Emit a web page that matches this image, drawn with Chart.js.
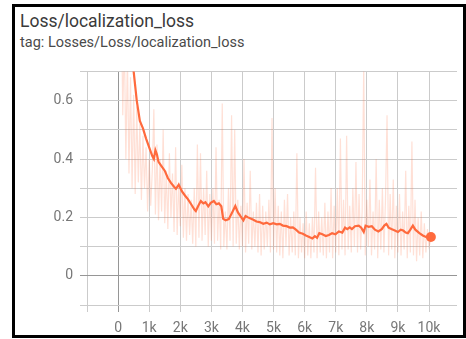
<!DOCTYPE html>
<html>
<head>
<meta charset="utf-8">
<script src="https://cdn.jsdelivr.net/npm/chart.js@4/dist/chart.umd.min.js"></script>
<style>
  html, body { margin: 0; padding: 0; background: #fff; width: 466px; height: 339px; overflow: hidden; }
  #frame { position: absolute; left: 12px; top: 4px; width: 454px; height: 334px; box-sizing: border-box; border: 3.5px solid #000; background: #fff; }
  #title { position: absolute; left: 20px; top: 11px; font-family: Roboto, sans-serif; font-size: 17.5px; color: #3a3a3a; white-space: nowrap; }
  #subtitle { position: absolute; left: 20px; top: 34px; font-family: Roboto, sans-serif; font-size: 14.5px; color: #4a4a4a; white-space: nowrap; }
  #wrap { position: absolute; left: 16px; top: 56px; width: 446px; height: 277px; }
</style>
</head>
<body>
<div id="frame"></div>
<div id="title">Loss/localization_loss</div>
<div id="subtitle">tag: Losses/Loss/localization_loss</div>
<div id="wrap"><canvas id="c" width="446" height="277"></canvas></div>
<script>
// ---- data ----
const rawSteps = [
  100,150,200,250,300,350,400,450,500,550,600,650,700,750,800,850,900,950,1000,
  1050,1100,1150,1200,1250,1300,1350,1400,1450,1500,1550,1600,1650,1700,1750,1800,1850,1900,1950,2000,
  2050,2100,2150,2200,2250,2300,2350,2400,2450,2500,2550,2600,2650,2700,2750,2800,2850,2900,2950,3000,
  3050,3100,3150,3200,3250,3300,3350,3400,3450,3500,3550,3600,3650,3700,3750,3800,3850,3900,3950,4000,
  4050,4100,4150,4200,4250,4300,4350,4400,4450,4500,4550,4600,4650,4700,4750,4800,4850,4900,4950,5000,
  5050,5100,5150,5200,5250,5300,5350,5400,5450,5500,5550,5600,5650,5700,5750,5800,5850,5900,5950,6000,
  6050,6100,6150,6200,6250,6300,6350,6400,6450,6500,6550,6600,6650,6700,6750,6800,6850,6900,6950,7000,
  7050,7100,7150,7200,7250,7300,7350,7400,7450,7500,7550,7600,7650,7700,7750,7800,7850,7900,7950,8000,
  8050,8100,8150,8200,8250,8300,8350,8400,8450,8500,8550,8600,8650,8700,8750,8800,8850,8900,8950,9000,
  9050,9100,9150,9200,9250,9300,9350,9400,9450,9500,9550,9600,9650,9700,9750,9800,9850,9900,9950,10000,
  10050];
const rawValues = [
  1.00,0.55,0.82,0.40,0.75,0.35,0.68,0.30,0.62,0.28,0.58,0.32,0.52,0.26,0.48,0.30,0.44,0.22,0.40,
  0.24,0.36,0.57,0.21,0.45,0.19,0.40,0.22,0.50,0.18,0.36,0.16,0.42,0.20,0.35,0.15,0.44,0.14,0.32,0.17,
  0.38,0.13,0.30,0.12,0.28,0.14,0.26,0.11,0.30,0.10,0.45,0.13,0.42,0.12,0.30,0.14,0.36,0.10,0.28,0.12,
  0.30,0.11,0.44,0.12,0.26,0.09,0.59,0.10,0.22,0.09,0.30,0.12,0.55,0.10,0.50,0.11,0.26,0.09,0.24,0.10,
  0.40,0.08,0.25,0.11,0.36,0.09,0.22,0.10,0.25,0.08,0.28,0.07,0.24,0.09,0.22,0.10,0.26,0.08,0.54,0.09,
  0.30,0.08,0.24,0.07,0.22,0.06,0.26,0.10,0.28,0.07,0.20,0.08,0.22,0.07,0.42,0.06,0.20,0.08,0.18,0.06,
  0.22,0.07,0.18,0.06,0.20,0.08,0.37,0.06,0.22,0.08,0.20,0.07,0.25,0.06,0.22,0.08,0.30,0.06,0.24,0.08,
  0.30,0.07,0.47,0.09,0.26,0.07,0.48,0.09,0.24,0.08,0.30,0.10,0.39,0.08,0.28,0.09,0.22,0.72,0.07,0.26,
  0.10,0.33,0.07,0.22,0.09,0.40,0.06,0.26,0.09,0.30,0.08,0.26,0.55,0.07,0.28,0.09,0.33,0.06,0.24,0.08,
  0.28,0.07,0.22,0.09,0.36,0.06,0.24,0.08,0.46,0.07,0.26,0.05,0.20,0.07,0.22,0.06,0.18,0.08,0.16,0.10,
  0.12];
const smoothSteps = [100,300,500,600,700,800,900,1000,1100,1150,1200,1250,1300,1400,1500,1600,1700,1800,1860,1950,
  2050,2150,2250,2350,2450,2500,2580,2660,2740,2810,2900,2980,3080,3160,3240,3320,3380,3460,3560,3660,
  3770,3850,3930,4030,4100,4180,4260,4350,4450,4550,4670,4780,4880,4990,5100,5200,5300,5420,5520,5620,
  5720,5820,5940,6040,6130,6250,6330,6400,6470,6570,6680,6780,6880,6990,7100,7210,7300,7370,7450,7520,
  7620,7740,7820,7900,7960,8060,8160,8260,8370,8480,8560,8630,8700,8790,8900,9000,9090,9170,9250,9320,
  9400,9480,9560,9690,9800,9900,10060];
const smoothValues = [1.10,0.86,0.70,0.60,0.53,0.505,0.47,0.44,0.41,0.40,0.43,0.415,0.39,0.375,0.36,0.335,0.318,0.305,0.298,0.312,
  0.29,0.275,0.262,0.245,0.228,0.222,0.24,0.256,0.248,0.252,0.238,0.25,0.256,0.245,0.248,0.238,0.195,0.19,0.194,0.215,
  0.239,0.218,0.205,0.19,0.205,0.20,0.196,0.192,0.186,0.184,0.178,0.182,0.176,0.18,0.176,0.178,0.172,0.17,0.165,0.166,
  0.158,0.148,0.144,0.138,0.134,0.128,0.136,0.13,0.146,0.142,0.136,0.14,0.146,0.142,0.152,0.148,0.165,0.16,0.166,0.16,
  0.17,0.172,0.165,0.15,0.172,0.168,0.17,0.158,0.152,0.16,0.172,0.178,0.165,0.16,0.155,0.15,0.158,0.155,0.148,0.146,
  0.158,0.172,0.158,0.146,0.138,0.133,0.133];
const yTickLabels = [0, 0.2, 0.4, 0.6];
const xTickLabels = [0,1000,2000,3000,4000,5000,6000,7000,8000,9000,10000];

const toPts = (xs, ys) => xs.map((x, i) => ({ x: x, y: ys[i] }));
const lastIdx = smoothSteps.length - 1;
const tickFont = { family: 'Roboto, sans-serif', size: 14 };
const gridColor = (ctx) => (ctx.tick && Math.abs(ctx.tick.value) < 1e-9) ? '#969696' : '#cbcbcb';

new Chart(document.getElementById('c'), {
  type: 'line',
  data: {
    datasets: [
      {
        label: 'smoothed',
        data: toPts(smoothSteps, smoothValues),
        borderColor: '#ff6a3d',
        backgroundColor: '#ff6a3d',
        borderWidth: 2.2,
        pointRadius: (ctx) => ctx.dataIndex === lastIdx ? 5 : 0,
        pointBorderWidth: 0,
        tension: 0,
        fill: false
      },
      {
        label: 'raw',
        data: toPts(rawSteps, rawValues),
        borderColor: 'rgba(255,112,67,0.22)',
        borderWidth: 1.2,
        pointRadius: 0,
        tension: 0,
        fill: false
      }
    ]
  },
  options: {
    responsive: false,
    animation: false,
    layout: { padding: { top: 9, right: 0, left: 0, bottom: 0 } },
    plugins: { legend: { display: false }, tooltip: { enabled: false } },
    scales: {
      x: {
        type: 'linear',
        min: -1000,
        max: 10900,
        afterBuildTicks: (s) => { const t = []; for (let v = -1000; v <= 10000; v += 1000) t.push({ value: v }); s.ticks = t; },
        afterFit: (s) => { s.height = 28; },
        grid: { color: gridColor, tickLength: 7, lineWidth: 1 },
        border: { display: false },
        ticks: {
          font: tickFont, color: '#777', padding: 8, maxRotation: 0, autoSkip: false,
          callback: (v) => xTickLabels.includes(v) ? (v === 0 ? '0' : (v / 1000) + 'k') : ''
        }
      },
      y: {
        type: 'linear',
        min: -0.1,
        max: 0.7,
        afterBuildTicks: (s) => { const t = []; for (let i = -1; i <= 7; i++) t.push({ value: i / 10 }); s.ticks = t; },
        afterFit: (s) => { s.width = 71; },
        grid: { color: gridColor, tickLength: 7, lineWidth: 1 },
        border: { display: false },
        ticks: {
          font: tickFont, color: '#777', padding: 7, autoSkip: false,
          callback: (v) => { const r = Math.round(v * 10) / 10; return yTickLabels.includes(r) ? String(r) : ''; }
        }
      }
    }
  }
});
</script>
</body>
</html>
